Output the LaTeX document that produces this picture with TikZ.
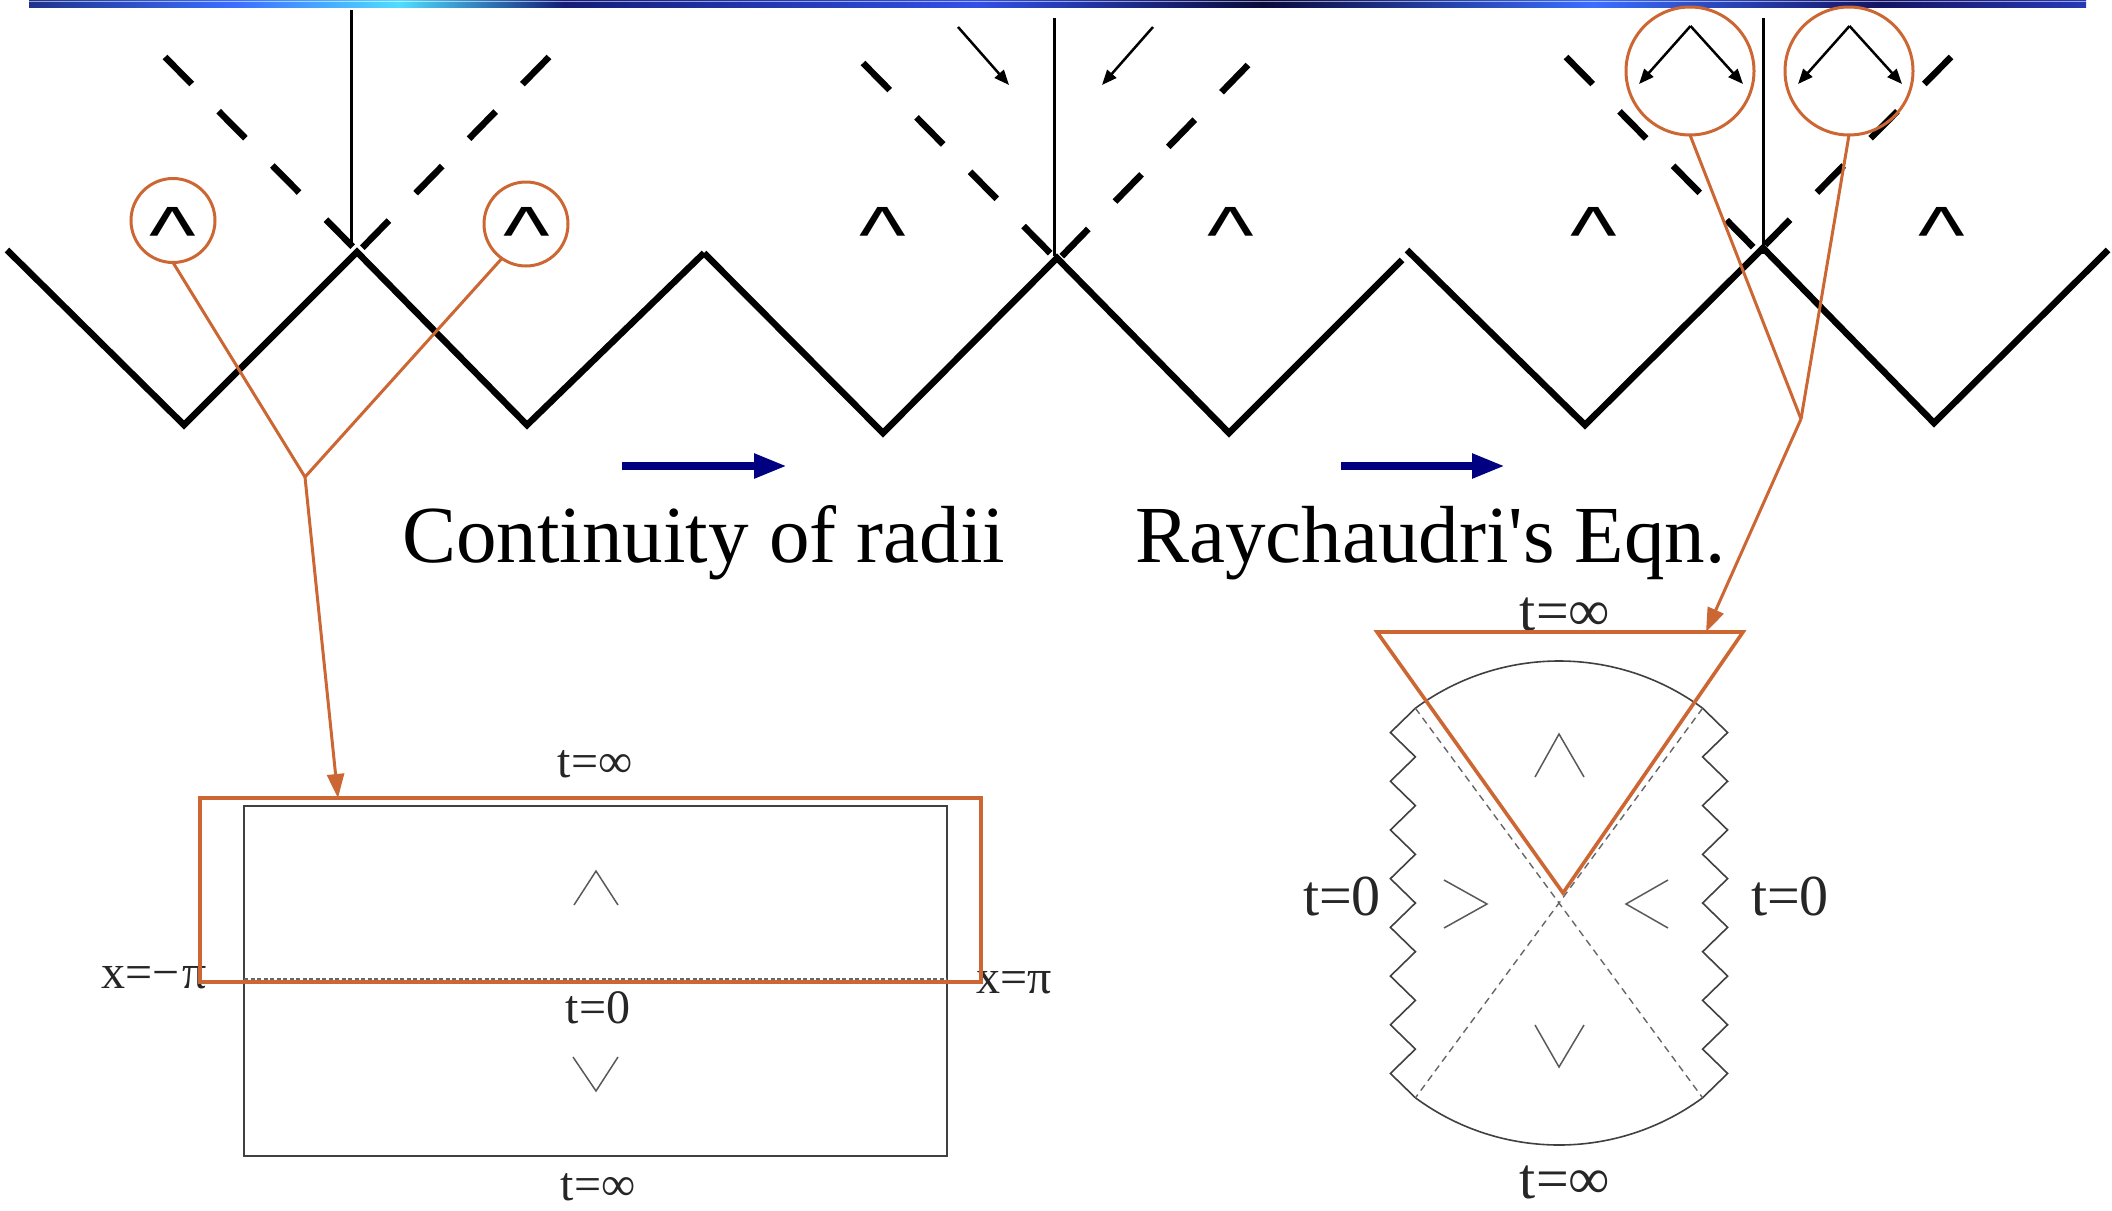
\documentclass[tikz,border=0pt]{standalone}
\usepackage{fontspec}
\setmainfont{Liberation Serif}
\newfontfamily\sansf{Liberation Sans}
\newfontfamily\capfont{Liberation Serif}[Ligatures=TeXOff]
\usetikzlibrary{arrows.meta}
\definecolor{orng}{RGB}{204,102,51}
\definecolor{navyb}{RGB}{0,0,128}
\definecolor{bA}{RGB}{40,40,140}
\definecolor{bB}{RGB}{90,110,255}
\definecolor{bC}{RGB}{20,20,100}
\definecolor{bD}{RGB}{40,60,200}
\definecolor{bE}{RGB}{15,15,70}
\definecolor{bF}{RGB}{60,110,255}
\definecolor{bG}{RGB}{80,220,255}
\definecolor{bH}{RGB}{20,30,120}
\definecolor{bI}{RGB}{50,80,230}
\definecolor{bJ}{RGB}{10,10,60}
\definecolor{bK}{RGB}{10,10,30}
\pgfdeclarehorizontalshading{barshade}{100bp}{color(0bp)=(bA); color(2bp)=(bB); color(6bp)=(bC); color(15bp)=(bD); color(22bp)=(bE); color(30bp)=(bF); color(34bp)=(bG); color(38bp)=(bH); color(48bp)=(bI); color(55bp)=(bJ); color(63bp)=(bF); color(70bp)=(bC); color(78bp)=(bI); color(85bp)=(bH); color(92bp)=(bD); color(97bp)=(bJ); color(100bp)=(bK)}
\tikzset{
  zz/.style={line width=6.5pt, line join=miter},
  dsh/.style={line width=6.5pt, dash pattern=on 38pt off 38.3pt},
  vln/.style={line width=3pt},
  blk/.style={line width=2.5pt, -{Triangle[length=15pt,width=12pt]}},
  ocirc/.style={circle, draw=orng, line width=3pt, inner sep=0pt, outer sep=0pt},
  ol/.style={draw=orng, line width=3pt},
  oarr/.style={draw=orng, line width=3pt, -{Triangle[length=24pt,width=17pt]}},
  barr/.style={draw=navyb, line width=8pt, -{Triangle[length=33pt,width=23pt]}},
  figl/.style={draw=black!75, line width=1.6pt},
  figc/.style={draw=black!65, line width=1.5pt},
  figd/.style={draw=black!60, line width=1.4pt, dash pattern=on 7pt off 5pt},
  figdd/.style={draw=black!60, line width=1.3pt, dash pattern=on 4pt off 2.5pt},
  lblS/.style={inner sep=0pt, text=black!85, font=\fontsize{48}{56}\selectfont},
  lblL/.style={inner sep=0pt, text=black!85, font=\fontsize{58}{66}\selectfont},
  captxt/.style={inner sep=0pt, anchor=base west, font=\capfont\fontsize{81}{96}\selectfont},
  crt/.style={inner sep=0pt, anchor=base, font=\sansf\fontsize{80}{96}\selectfont},
}
\begin{document}
\begin{tikzpicture}[x=1pt,y=-1pt]
\useasboundingbox (0,0) rectangle (2112,1210);
% top bar
\shade[shading=barshade] (29,0) rectangle (2086,7);
\draw[line width=1pt, draw=white, opacity=0.55] (29,1.6) -- (2086,1.6);

% zigzag lines
\draw[zz] (7,250) -- (184,425) -- (357,252) -- (527,425) -- (704,253);
\draw[zz] (704,253) -- (883,433) -- (1057,258) -- (1229,433) -- (1402,260);
\draw[zz] (1407,250) -- (1585,425) -- (1763,248) -- (1934,423) -- (2108,250);

% dashed continuations
\draw[dsh] (165,57) -- (353,247);
\draw[dsh] (549,57) -- (362,248);
\draw[dsh] (863,63) -- (1053,256);
\draw[dsh] (1248,65) -- (1061,257);
\draw[dsh] (1566,57) -- (1754,248);
\draw[dsh] (1951,57) -- (1765,245);

% vertical lines
\coordinate (v1a) at (351,10);   \coordinate (v1b) at (351,246);
\coordinate (v2a) at (1054,18);  \coordinate (v2b) at (1054,256);
\coordinate (v3a) at (1763,18);  \coordinate (v3b) at (1763,254);
\draw[vln] (v1a) -- (v1b);
\draw[vln] (v2a) -- (v2b);
\draw[vln] (v3a) -- (v3b);

% carets
\foreach \x/\n in {173/1,527/2,883/3,1231/4,1594/5,1942/6}
  \node[crt] (car\n) at (\x,262) {\scalebox{1.24}[1]{\textasciicircum}};

% arrows of the middle panel
\coordinate (ma1) at (958,27);  \coordinate (mb1) at (1009,85);
\coordinate (ma2) at (1153,27); \coordinate (mb2) at (1102,85);
\draw[blk] (ma1) -- (mb1);
\draw[blk] (ma2) -- (mb2);

% orange circles
\node[ocirc, minimum size=84pt] (c1) at (173,220.5) {};
\node[ocirc, minimum size=84pt] (c2) at (526,224) {};
\node[ocirc, minimum size=128pt] (c3) at (1690,71) {};
\node[ocirc, minimum size=128pt] (c4) at (1849,71) {};

% arrows in the right circles
\coordinate (ap1) at (1690.5,26); \coordinate (al1) at (1639,84); \coordinate (ar1) at (1743,84);
\coordinate (ap2) at (1849.5,26); \coordinate (al2) at (1798,84); \coordinate (ar2) at (1902,84);
\draw[blk] (ap1) -- (al1);
\draw[blk] (ap1) -- (ar1);
\draw[blk] (ap2) -- (al2);
\draw[blk] (ap2) -- (ar2);

% blue arrows
\coordinate (ba1) at (622,466); \coordinate (bb1) at (787,466);
\coordinate (ba2) at (1341,466); \coordinate (bb2) at (1505,466);
\draw[barr] (ba1) -- (bb1);
\draw[barr] (ba2) -- (bb2);

% captions
\node[captxt] (cap1) at (402,562) {Continuity of radii};
\node[captxt] (cap2) at (1135,562) {Raychaudri's Eqn.};

% ---------- lower left figure ----------
\draw[figl] (244,806) rectangle (947,1156);
\draw[figdd] (244,979) -- (947,979);
\draw[figc] (574,905) -- (596,871) -- (618,905);
\draw[figc] (573,1057) -- (596,1091) -- (618,1057);
\node[lblS, anchor=base] (lt1) at (595,777) {t=∞};
\node[lblS, anchor=base] (lt0) at (598,1023) {t=0};
\node[lblS, anchor=base] (lt2) at (598,1200) {t=∞};
\node[lblS, anchor=base west] (lxl) at (101,988) {x=−\kern3pt π};
\node[lblS, anchor=base west] (lxr) at (976,993) {x=π};

% ---------- lower right figure ----------
\coordinate (O) at (1559,903);
\coordinate (TL) at (1415.4,708.2);
\coordinate (TR) at (1702.6,708.2);
\coordinate (BL) at (1415.4,1097.8);
\coordinate (BR) at (1702.6,1097.8);
\draw[figl] (TL) arc[start angle=233.6, end angle=306.4, radius=242];
\draw[figl] (BL) arc[start angle=126.4, end angle=53.6, radius=242];
\draw[figl, line join=miter] (TL) \foreach \k in {1,...,8}{ -- ++(-25,24.35) -- ++(25,24.35) };
\draw[figl, line join=miter] (TR) \foreach \k in {1,...,8}{ -- ++(25,24.35) -- ++(-25,24.35) };
\draw[figd] (TL) -- (BR);
\draw[figd] (TR) -- (BL);
\draw[figc] (1535,777) -- (1559,734) -- (1584,777);
\draw[figc] (1444,880) -- (1487,904) -- (1444,928);
\draw[figc] (1668,880) -- (1626,904) -- (1668,928);
\draw[figc] (1535,1025) -- (1559,1067) -- (1584,1025);
\node[lblL, anchor=base] (rt1) at (1565,630) {t=∞};
\node[lblL, anchor=base] (rtl) at (1342,915) {t=0};
\node[lblL, anchor=base] (rtr) at (1790,915) {t=0};
\node[lblL, anchor=base] (rt2) at (1565,1198) {t=∞};

% ---------- orange overlays ----------
\draw[ol, line width=3.4pt] (200,798) rectangle (981,982);
\draw[ol, line width=3.6pt, line join=miter] (1377,632) -- (1743,632) -- (1563,893) -- cycle;
\coordinate (cv1) at (305,477);
\coordinate (t1) at (338,798);
\draw[ol] (c1.south) -- (cv1);
\draw[ol] (c2.235) -- (cv1);
\draw[oarr] (cv1) -- (t1);
\coordinate (cv2) at (1801,419);
\coordinate (t2) at (1706,632);
\draw[ol] (c3.south) -- (cv2);
\draw[ol] (c4.south) -- (cv2);
\draw[oarr] (cv2) -- (t2);
\end{tikzpicture}
\end{document}
